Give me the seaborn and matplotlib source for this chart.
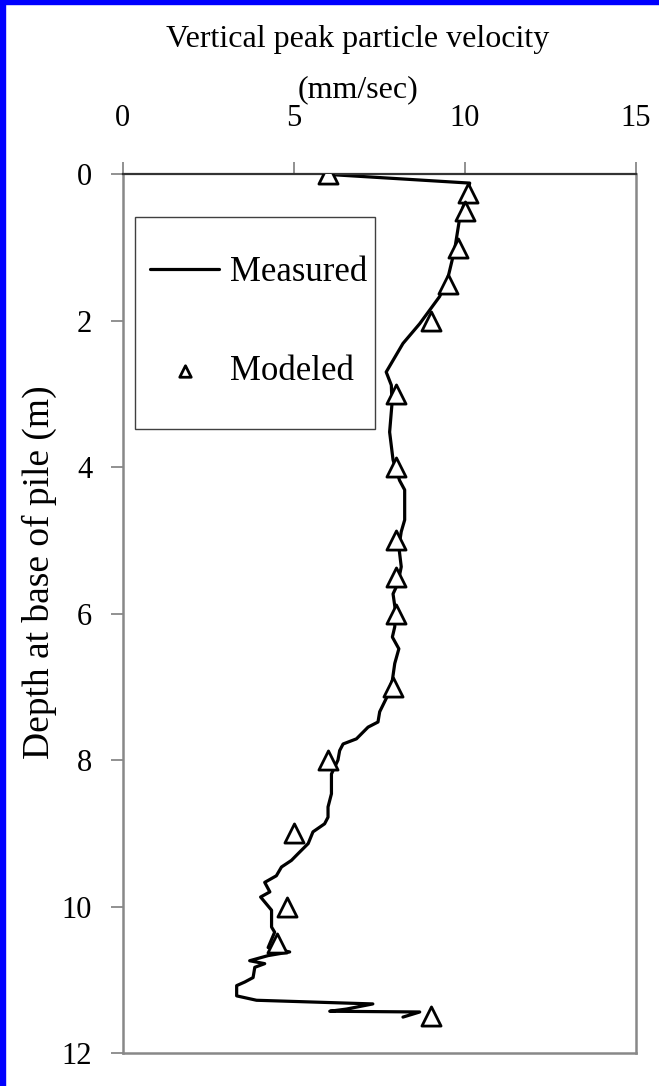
import matplotlib
matplotlib.use("Agg")
import matplotlib.pyplot as plt
import seaborn as sns
import pandas as pd
from matplotlib.patches import Rectangle

# Measured vertical peak particle velocity (mm/sec) against depth at pile base (m)
measured_velocity = [5.95, 10.14, 10.04, 9.84, 9.70, 9.49, 9.26, 8.68, 8.19, 7.70,
                     7.85, 7.87, 7.80, 7.90, 8.09, 8.24, 8.24, 8.14, 8.07, 8.14,
                     8.04, 7.90, 7.97, 7.95, 7.88, 8.07, 7.95, 7.88, 7.72, 7.51,
                     7.46, 7.17, 6.83, 6.44, 6.34, 6.29, 6.10, 6.10, 6.00, 6.00,
                     5.90, 5.56, 5.42, 5.12, 4.93, 4.64, 4.49, 4.15, 4.30, 4.03,
                     4.35, 4.35, 4.44, 4.25, 4.88, 4.25, 3.71, 4.15, 3.86, 3.81,
                     3.57, 3.33, 3.33, 3.91, 7.31, 6.54, 6.05, 8.68, 8.19]
measured_depth = [0.00, 0.12, 0.30, 0.62, 1.03, 1.44, 1.67, 2.04, 2.31, 2.70,
                  2.88, 3.13, 3.52, 3.90, 4.18, 4.31, 4.72, 4.88, 5.09, 5.36,
                  5.59, 5.73, 5.96, 6.18, 6.32, 6.48, 6.68, 6.91, 7.14, 7.34,
                  7.48, 7.55, 7.71, 7.78, 7.87, 8.00, 8.19, 8.46, 8.64, 8.78,
                  8.87, 8.98, 9.14, 9.28, 9.37, 9.46, 9.58, 9.67, 9.80, 9.87,
                  10.05, 10.28, 10.35, 10.56, 10.62, 10.67, 10.74, 10.78, 10.83, 10.97,
                  11.03, 11.08, 11.22, 11.28, 11.33, 11.40, 11.43, 11.44, 11.51]

# Modeled values
modeled_velocity = [6.0, 10.1, 10.0, 9.8, 9.5, 9.0, 8.0, 8.0, 8.0, 8.0, 8.0,
                    7.9, 6.0, 5.0, 4.8, 4.5, 9.0]
modeled_depth = [0.0, 0.25, 0.5, 1.0, 1.5, 2.0, 3.0, 4.0, 5.0, 5.5, 6.0,
                 7.0, 8.0, 9.0, 10.0, 10.5, 11.5]

x_ticks = [0, 5, 10, 15]
y_ticks = [0, 2, 4, 6, 8, 10, 12]

sns.set_theme(style="white")
plt.rcParams["font.family"] = ["Liberation Serif", "DejaVu Serif"]
plt.rcParams["text.color"] = "black"
plt.rcParams["axes.labelcolor"] = "black"

fig = plt.figure(figsize=(6.59, 10.86), dpi=100)
fig.patch.set_facecolor("white")
ax = fig.add_axes([0.1862, 0.0304, 0.7789, 0.8091])

measured = pd.DataFrame({"velocity": measured_velocity, "depth": measured_depth})
modeled = pd.DataFrame({"velocity": modeled_velocity, "depth": modeled_depth})

sns.lineplot(data=measured, x="velocity", y="depth", sort=False, estimator=None,
             color="black", linewidth=2.3, solid_joinstyle="round",
             label="Measured", ax=ax, zorder=2)
sns.scatterplot(data=modeled, x="velocity", y="depth", marker="^", s=190,
                color="white", edgecolor="black", linewidth=2.0,
                label="Modeled", ax=ax, zorder=3)

ax.set_xlim(0, 15)
ax.set_ylim(12, 0)
ax.set_xticks(x_ticks)
ax.set_yticks(y_ticks)

# Axis on top
ax.xaxis.tick_top()
ax.xaxis.set_label_position("top")
ax.tick_params(axis="x", top=True, bottom=False, labeltop=True, labelbottom=False,
               direction="out", length=9, width=1.3, color="#888888",
               pad=21, labelsize=22, labelcolor="black")
ax.tick_params(axis="y", left=True, direction="out", length=9, width=1.3,
               color="#888888", pad=13, labelsize=22, labelcolor="black")

ax.set_xlabel("Vertical peak particle velocity\n(mm/sec)", fontsize=23,
              linespacing=1.95, color="black")
ax.xaxis.set_label_coords(0.458, 1.125)
ax.xaxis.label.set_verticalalignment("center")
ax.set_ylabel("Depth at base of pile (m)", fontsize=27, color="black")
ax.yaxis.set_label_coords(-0.128, 0.547)

for side in ["left", "right", "bottom"]:
    ax.spines[side].set_color("#888888")
    ax.spines[side].set_linewidth(1.8)
ax.spines["top"].set_color("#333333")
ax.spines["top"].set_linewidth(1.6)

# Legend
handles, labels = ax.get_legend_handles_labels()
ax.legend(handles, labels, loc="center left", bbox_to_anchor=(0.053, 0.832),
          frameon=False, fontsize=25, markerscale=0.6, handlelength=2.0,
          handletextpad=0.3, labelspacing=1.9, borderpad=0.0, borderaxespad=0.0,
          labelcolor="black")
ax.add_patch(Rectangle((0.024, 0.7101), 0.4676, 0.2413, transform=ax.transAxes,
                       fill=False, edgecolor="#404040", linewidth=1.0, zorder=1))

# Blue page border strips
fig.patches.append(Rectangle((0, 1 - 4 / 1086), 1, 4 / 1086,
                             transform=fig.transFigure, color="#0000ff"))
fig.patches.append(Rectangle((0, 0), 5 / 659, 1,
                             transform=fig.transFigure, color="#0000ff"))

fig.savefig("out.png", dpi=100)
